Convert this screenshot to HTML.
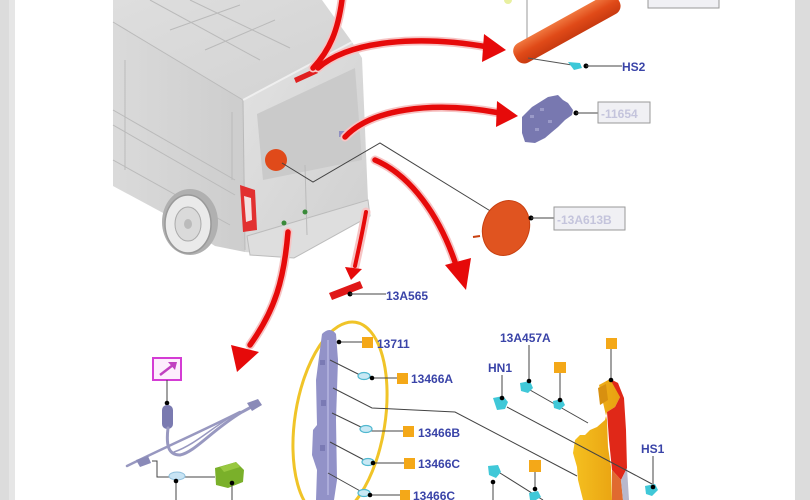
<!DOCTYPE html>
<html><head><meta charset="utf-8"><style>
html,body{margin:0;padding:0;background:#fff;}
svg{display:block;}
text{font-family:"Liberation Sans",Arial,sans-serif;font-weight:bold;}
</style></head><body>
<svg width="810" height="500" viewBox="0 0 810 500" xmlns="http://www.w3.org/2000/svg">
<defs>
<linearGradient id="roof" x1="0" y1="0" x2="1" y2="1"><stop offset="0" stop-color="#dedede"/><stop offset="1" stop-color="#d2d2d2"/></linearGradient>
<linearGradient id="side" x1="0" y1="0" x2="1" y2="0"><stop offset="0" stop-color="#dadada"/><stop offset="1" stop-color="#cdcdcd"/></linearGradient>
<linearGradient id="rear" x1="0" y1="0" x2="1" y2="1"><stop offset="0" stop-color="#e2e2e2"/><stop offset="1" stop-color="#cfcfcf"/></linearGradient>
<linearGradient id="tube" x1="0" y1="0" x2="0" y2="1"><stop offset="0" stop-color="#f07840"/><stop offset="0.5" stop-color="#e04a18"/><stop offset="1" stop-color="#c83a10"/></linearGradient>
<linearGradient id="yel" x1="0" y1="0" x2="1" y2="0"><stop offset="0" stop-color="#f5c020"/><stop offset="1" stop-color="#e8a010"/></linearGradient>
</defs>
<rect width="810" height="500" fill="#fff"/>
<rect x="0" y="0" width="9" height="500" fill="#dcdcdc"/>
<rect x="9" y="0" width="6" height="500" fill="#e6e6e6"/>
<rect x="795" y="0" width="15" height="500" fill="#dcdcdc"/>

<!-- VAN -->
<g>
<polygon points="113,0 322,0 352,42 243,100 113,22" fill="url(#roof)"/>
<polygon points="113,22 243,100 245,252 215,246 165,214 113,186" fill="url(#side)"/>
<polygon points="243,100 352,42 362,58 368,200 370,214 292,256 245,252" fill="url(#rear)"/>
<polygon points="257,114 355,68 362,160 263,180" fill="#cacaca"/>
<polygon points="247,236 368,200 370,216 294,258 250,255" fill="#dedede" stroke="#bcbcbc" stroke-width="1"/>
<g stroke="#bababa" stroke-width="1" fill="none">
<line x1="113" y1="22" x2="243" y2="100"/>
<line x1="150" y1="0" x2="260" y2="60"/>
<line x1="190" y1="0" x2="290" y2="48"/>
<line x1="170" y1="30" x2="240" y2="5"/>
<line x1="205" y1="50" x2="275" y2="20"/>
<line x1="113" y1="110" x2="235" y2="180"/>
<line x1="113" y1="125" x2="235" y2="195"/>
<line x1="113" y1="160" x2="230" y2="225"/>
<line x1="125" y1="60" x2="125" y2="170"/>
<line x1="232" y1="112" x2="232" y2="180"/>
<line x1="305" y1="165" x2="307" y2="235"/>
<line x1="243" y1="100" x2="245" y2="250"/>
</g>
<polyline points="243,100 352,42" stroke="#efefef" stroke-width="2" fill="none"/>
<ellipse cx="190" cy="222" rx="28" ry="33" fill="#b0b0b0"/>
<ellipse cx="188" cy="224" rx="23" ry="29" fill="#eaeaea" stroke="#999" stroke-width="1.5"/>
<ellipse cx="188" cy="224" rx="13" ry="17" fill="#dadada" stroke="#aaa"/>
<ellipse cx="188" cy="224" rx="4" ry="5" fill="#bbb"/>
<polygon points="240,185 255,190 257,230 243,232" fill="#e23030"/>
<polygon points="244,196 251,198 252,220 246,222" fill="#f2e0e0"/>
<circle cx="276" cy="160" r="11" fill="#e04a1a"/>
<polygon points="294,78 316,68 318,73 296,83" fill="#e02020"/>
<rect x="339" y="131" width="6" height="6" fill="#9090c0"/>
<circle cx="284" cy="223" r="2.5" fill="#3a8a3a"/>
<circle cx="305" cy="212" r="2.5" fill="#3a8a3a"/>
</g>

<!-- leader from round light -->
<polyline points="282,163 313,182 380,143 492,212" fill="none" stroke="#444" stroke-width="1"/>

<!-- RED ARROWS -->
<g fill="none" stroke-linecap="round">
<g stroke="#f6c4c4" stroke-width="9">
<path d="M342,0 C338,30 330,50 313,68"/>
<path d="M318,68 C350,40 420,35 488,47"/>
<path d="M345,137 C370,110 430,100 500,113"/>
<path d="M375,160 C410,175 440,215 457,268"/>
<path d="M366,212 C362,235 358,252 355,266"/>
<path d="M288,232 C284,280 275,310 250,345"/>
</g>
<g stroke="#e60a0a" stroke-width="5.5">
<path d="M342,0 C338,30 330,50 313,68"/>
<path d="M318,68 C350,40 420,35 488,47"/>
<path d="M345,137 C370,110 430,100 500,113"/>
<path d="M375,160 C410,175 440,215 457,268"/>
<path d="M366,212 C362,235 358,252 355,266" stroke-width="4"/>
<path d="M288,232 C284,280 275,310 250,345"/>
</g>
</g>
<g fill="#e60a0a">
<polygon points="484,34 506,50 482,62"/>
<polygon points="497,101 518,116 496,127"/>
<polygon points="445,265 466,290 471,258"/>
<polygon points="345,267 351,280 362,269"/>
<polygon points="231,345 237,372 259,352"/>
</g>

<!-- TOP TUBE LIGHT -->
<circle cx="508" cy="0" r="4" fill="#e8f0a0"/>
<line x1="527" y1="0" x2="527" y2="50" stroke="#999" stroke-width="1"/>
<g transform="translate(566,29) rotate(-29)">
<rect x="-58" y="-11" width="118" height="22" rx="9" fill="url(#tube)"/>
</g>
<rect x="648" y="-2" width="71" height="10" fill="#f0f0f4" stroke="#999"/>
<polyline points="528,58 572,65" stroke="#555" stroke-width="1" fill="none"/>
<polygon points="568,62 580,63 582,68 574,70" fill="#3cc8d8"/>
<circle cx="586" cy="66" r="2.5" fill="#000"/>
<line x1="586" y1="66" x2="622" y2="66" stroke="#444"/>
<text x="622" y="71" font-size="12" fill="#3a44a8">HS2</text>

<!-- 11654 -->
<polygon points="522,117 532,107 548,97 558,95 563,100 568,103 573,110 572,115 565,120 558,127 552,132 545,138 535,143 525,142 522,133" fill="#7878b0"/>
<g fill="#9a9ac8"><rect x="530" y="115" width="4" height="3"/><rect x="540" y="108" width="4" height="3"/><rect x="535" y="128" width="4" height="3"/><rect x="548" y="120" width="4" height="3"/></g>
<circle cx="576" cy="113" r="2.5" fill="#000"/>
<line x1="576" y1="113" x2="598" y2="113" stroke="#444"/>
<rect x="598" y="102" width="52" height="21" fill="#f0f0f4" stroke="#999"/>
<text x="601" y="118" font-size="12" fill="#c4c4dc">-11654</text>

<!-- 13A613B -->
<ellipse cx="506" cy="228" rx="23" ry="28" transform="rotate(20 506 228)" fill="#e05420" stroke="#c84010"/>
<line x1="473" y1="237" x2="480" y2="236" stroke="#c84010" stroke-width="2"/>
<circle cx="531" cy="218" r="2.5" fill="#000"/>
<line x1="531" y1="218" x2="554" y2="218" stroke="#444"/>
<rect x="554" y="207" width="71" height="23" fill="#f0f0f4" stroke="#999"/>
<text x="557" y="224" font-size="12" fill="#c4c4dc">-13A613B</text>

<!-- 13A565 -->
<polygon points="329,293 360,281 363,288 332,300" fill="#e01818"/>
<circle cx="350" cy="294" r="2.5" fill="#000"/>
<line x1="350" y1="294" x2="386" y2="294" stroke="#444"/>
<text x="386" y="300" font-size="12" fill="#3a44a8">13A565</text>

<!-- Yellow ellipse -->
<ellipse cx="340" cy="420" rx="45" ry="99" transform="rotate(9 340 420)" fill="none" stroke="#f0c428" stroke-width="3"/>

<!-- purple housing -->
<path d="M322,334 Q330,326 336,334 L338,360 L336,420 L337,480 L334,500 L316,500 L317,470 L312,455 L313,430 L317,425 L316,380 Z" fill="#9292c8"/>
<g stroke="#b4b4e0" stroke-width="1.5"><line x1="328" y1="340" x2="328" y2="495"/></g>
<g fill="#7a7ab4"><rect x="320" y="360" width="5" height="5"/><rect x="321" y="400" width="5" height="6"/><rect x="320" y="445" width="5" height="6"/></g>

<!-- labels for housing -->
<g stroke="#444" stroke-width="1" fill="none">
<line x1="339" y1="342" x2="362" y2="342"/>
<line x1="330" y1="360" x2="362" y2="376"/>
<line x1="372" y1="378" x2="397" y2="378"/>
<line x1="332" y1="413" x2="365" y2="429"/>
<line x1="370" y1="431" x2="403" y2="431"/>
<line x1="330" y1="442" x2="366" y2="461"/>
<line x1="373" y1="463" x2="404" y2="463"/>
<line x1="328" y1="473" x2="362" y2="492"/>
<line x1="370" y1="495" x2="400" y2="495"/>
<polyline points="333,388 372,408 455,412 577,476"/>
</g>
<g fill="#c8e8f4" stroke="#50b8d0" stroke-width="1.2">
<ellipse cx="364" cy="376" rx="6" ry="3.5"/>
<ellipse cx="366" cy="429" rx="6" ry="3.5"/>
<ellipse cx="368" cy="462" rx="6" ry="3.5"/>
<ellipse cx="364" cy="493" rx="6" ry="3.5"/>
</g>
<g fill="#000"><circle cx="339" cy="342" r="2.3"/><circle cx="372" cy="378" r="2.3"/><circle cx="373" cy="463" r="2.3"/><circle cx="370" cy="495" r="2.3"/></g>
<g fill="#f4a818">
<rect x="362" y="337" width="11" height="11"/>
<rect x="397" y="373" width="11" height="11"/>
<rect x="403" y="426" width="11" height="11"/>
<rect x="404" y="458" width="11" height="11"/>
<rect x="400" y="490" width="10" height="11"/>
</g>
<g font-size="12" fill="#3a44a8">
<text x="377" y="348">13711</text>
<text x="411" y="383">13466A</text>
<text x="418" y="437">13466B</text>
<text x="418" y="468">13466C</text>
<text x="413" y="500">13466C</text>
</g>

<!-- TAILLIGHT right -->
<polygon points="599,385 610,379 618,383 620,397 615,407 607,412 605,420 597,427 590,430 585,435 580,435 575,440 573,453 577,467 578,480 583,500 612,500 611,467 608,447 607,420" fill="url(#yel)"/>
<polygon points="610,379 618,383 624,398 626,430 627,468 621,480 612,470 609,440 607,412 615,407 620,397" fill="#e02818"/>
<polygon points="612,470 621,480 623,500 612,500" fill="#e06a30"/>
<polygon points="621,480 627,468 629,500 623,500" fill="#b8b8cc"/>
<polygon points="598,388 606,384 608,400 600,405" fill="#d89010"/>

<!-- connectors & lines right side -->
<g stroke="#444" stroke-width="1" fill="none">
<line x1="611" y1="348" x2="611" y2="380"/>
<line x1="502" y1="375" x2="502" y2="398"/>
<line x1="529" y1="345" x2="529" y2="381"/>
<line x1="560" y1="372" x2="560" y2="401"/>
<line x1="530" y1="390" x2="588" y2="423"/>
<line x1="507" y1="407" x2="652" y2="484"/>
<line x1="653" y1="456" x2="653" y2="487"/>
<line x1="493" y1="481" x2="493" y2="500"/>
<line x1="535" y1="472" x2="535" y2="490"/>
<line x1="500" y1="473" x2="543" y2="500"/>
</g>
<g fill="#40c8d8">
<polygon points="493,398 503,396 508,402 505,409 497,410"/>
<polygon points="520,383 530,381 533,388 528,393 521,391"/>
<polygon points="553,401 562,399 565,405 560,410 554,408"/>
<polygon points="645,486 655,484 658,490 652,496 646,494"/>
<polygon points="488,466 498,465 501,472 496,478 489,475"/>
<polygon points="529,493 538,491 541,497 536,500 530,500"/>
</g>
<g fill="#000">
<circle cx="611" cy="380" r="2.3"/><circle cx="502" cy="398" r="2.3"/><circle cx="529" cy="381" r="2.3"/>
<circle cx="560" cy="400" r="2.3"/><circle cx="653" cy="487" r="2.3"/><circle cx="493" cy="482" r="2.3"/><circle cx="535" cy="489" r="2.3"/>
</g>
<g fill="#f4a818">
<rect x="606" y="338" width="11" height="11"/>
<rect x="554" y="362" width="12" height="11"/>
<rect x="529" y="460" width="12" height="12"/>
</g>
<g font-size="12" fill="#3a44a8">
<text x="500" y="342">13A457A</text>
<text x="488" y="372">HN1</text>
<text x="641" y="453">HS1</text>
</g>

<!-- HARNESS bottom left -->
<rect x="153" y="358" width="28" height="22" fill="#fdeefd" stroke="#d43cd4" stroke-width="2"/>
<line x1="160" y1="375" x2="173" y2="365" stroke="#c040c0" stroke-width="2.5"/>
<polygon points="168,362 177,362 175,370" fill="#c040c0"/>
<line x1="167" y1="380" x2="167" y2="403" stroke="#444"/>
<circle cx="167" cy="403" r="2.3" fill="#000"/>
<rect x="162" y="405" width="11" height="24" rx="5" fill="#7a7ab0"/>
<g fill="none" stroke="#9898c0" stroke-linecap="round">
<path d="M127,466 C170,445 200,432 240,412" stroke-width="2.5"/>
<path d="M168,428 C166,445 168,455 180,455 C195,452 212,430 242,412 L255,405" stroke-width="3"/>
<path d="M174,452 C195,445 215,425 236,414" stroke-width="1.5"/>
</g>
<polygon points="247,403 258,399 262,405 252,411" fill="#8a8ab8"/>
<polygon points="136,460 148,456 151,463 140,467" fill="#8a8ab8"/>
<polyline points="152,461 157,461 157,477 215,477" fill="none" stroke="#444"/>
<ellipse cx="177" cy="476" rx="8" ry="4" fill="#c8e4f4" stroke="#90c0dc"/>
<polygon points="215,468 236,462 244,470 243,482 228,488 216,485" fill="#7ab02a"/>
<polygon points="220,467 236,462 240,467 224,472" fill="#98c840"/>
<line x1="176" y1="481" x2="176" y2="500" stroke="#444"/>
<line x1="232" y1="483" x2="232" y2="500" stroke="#444"/>
<circle cx="176" cy="481" r="2.3" fill="#000"/>
<circle cx="232" cy="483" r="2.3" fill="#000"/>
</svg>
</body></html>
